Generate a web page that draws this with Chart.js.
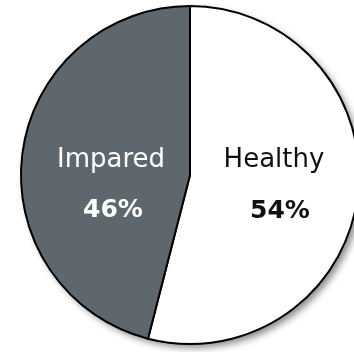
<!DOCTYPE html>
<html>
<head>
<meta charset="utf-8">
<script src="https://cdn.jsdelivr.net/npm/chart.js@4"></script>
<style>
  html, body { margin: 0; padding: 0; background: #fff; overflow: hidden; }
  #wrap { width: 380px; height: 352px; }
</style>
</head>
<body>
<div id="wrap"><canvas id="pie" width="380" height="352"></canvas></div>
<script>
  // Data
  const labels = ['Healthy', 'Impared'];
  const values = [54, 46];
  const sliceColors = ['#ffffff', '#5f676e'];
  const textColors = ['#111111', '#ffffff'];
  // label offsets from pie centre: [name dx, name dy, pct dx, pct dy]
  const labelOffsets = [[84, -8, 90, 43], [-79, -8, -77, 42]];

  // soft shadow behind the pie, bottom-right
  const shadowPlugin = {
    id: 'pieShadow',
    beforeDatasetsDraw(chart) {
      const arc = chart.getDatasetMeta(0).data[0];
      if (!arc) return;
      const ctx = chart.ctx;
      ctx.save();
      ctx.shadowColor = 'rgba(0, 0, 0, 0.45)';
      ctx.shadowBlur = 7;
      ctx.shadowOffsetX = 4;
      ctx.shadowOffsetY = 4;
      ctx.fillStyle = '#ffffff';
      ctx.beginPath();
      ctx.arc(arc.x, arc.y, arc.outerRadius, 0, Math.PI * 2);
      ctx.fill();
      ctx.restore();
    }
  };

  const labelPlugin = {
    id: 'sliceLabels',
    afterDatasetsDraw(chart) {
      const meta = chart.getDatasetMeta(0);
      const ctx = chart.ctx;
      ctx.save();
      ctx.textAlign = 'center';
      ctx.textBaseline = 'alphabetic';
      meta.data.forEach((arc, i) => {
        const off = labelOffsets[i];
        ctx.fillStyle = textColors[i];
        ctx.font = '26px "DejaVu Sans"';
        ctx.fillText(labels[i], arc.x + off[0], arc.y + off[1]);
        ctx.font = 'bold 25px "DejaVu Sans"';
        ctx.fillText(values[i] + '%', arc.x + off[2], arc.y + off[3]);
      });
      ctx.restore();
    }
  };

  new Chart(document.getElementById('pie'), {
    type: 'pie',
    data: {
      labels: labels,
      datasets: [{
        data: values,
        backgroundColor: sliceColors,
        borderColor: '#000000',
        borderWidth: 2
      }]
    },
    options: {
      responsive: false,
      animation: false,
      layout: { padding: { left: 20, right: 20, top: 5, bottom: 7 } },
      plugins: {
        legend: { display: false },
        tooltip: { enabled: false }
      }
    },
    plugins: [shadowPlugin, labelPlugin]
  });
</script>
</body>
</html>
